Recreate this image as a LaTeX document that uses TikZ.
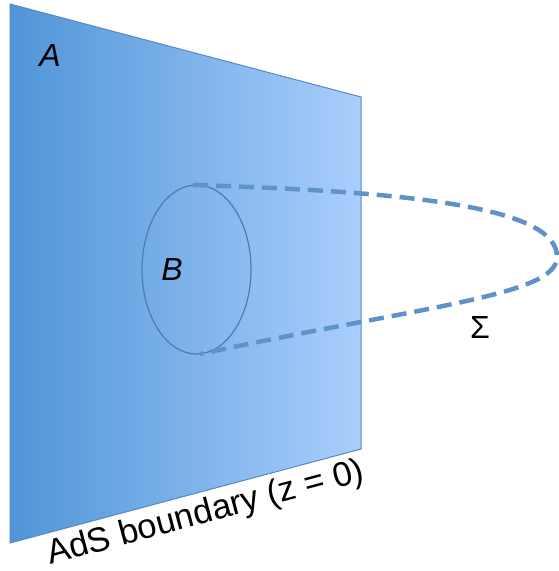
\documentclass[tikz,border=0pt]{standalone}
\usepackage{fontspec}
\setmainfont{Liberation Sans}
\definecolor{planeleft}{RGB}{80,149,215}
\definecolor{planeright}{RGB}{170,206,253}
\definecolor{planeedge}{RGB}{84,138,196}
\definecolor{sigmablue}{RGB}{95,146,201}
\tikzset{
	label/.style={font=\fontsize{32}{38}\selectfont},
	surface/.style={sigmablue, line width=4.5pt, dash pattern=on 15pt off 8pt}
}
\begin{document}
\begin{tikzpicture}[x=1pt, y=-1pt]
		\useasboundingbox (0,0) rectangle (558,571);
		% Boundary plane
		\coordinate (tl) at (10,4);
		\coordinate (tr) at (361,97);
		\coordinate (br) at (361,449);
		\coordinate (bl) at (10,543);
		\shade[left color=planeleft, right color=planeright] (tl) -- (tr) -- (br) -- (bl) -- cycle;
		\draw[planeedge, line width=1pt] (tl) -- (tr) -- (br) -- (bl) -- cycle;
		\node[label, font=\fontsize{34.5}{40}\selectfont, anchor=base west, rotate=15, inner sep=0pt] (ads) at (50,565) {AdS boundary (z = 0)};
		\node[label] (A) at (50,55) {\itshape A};
		
		% Region B
		\draw[planeedge!90!black, line width=1.2pt] (196.5,269.5) ellipse [x radius=54.5, y radius=84.5];
		\coordinate (Btop) at (193,185);
		\coordinate (Bbot) at (200,354);
		\node[label] (B) at (172,269) {\itshape B};
		
		% Extremal surface
		\coordinate (tip) at (557,257);
		\draw[surface] (Btop) .. controls (430,192) and (557,210) .. (tip)
			.. controls (557,295) and (430,305) .. (Bbot);
		\node[label] (Sigma) at (480,327) {Σ};
	\end{tikzpicture}
\end{document}
